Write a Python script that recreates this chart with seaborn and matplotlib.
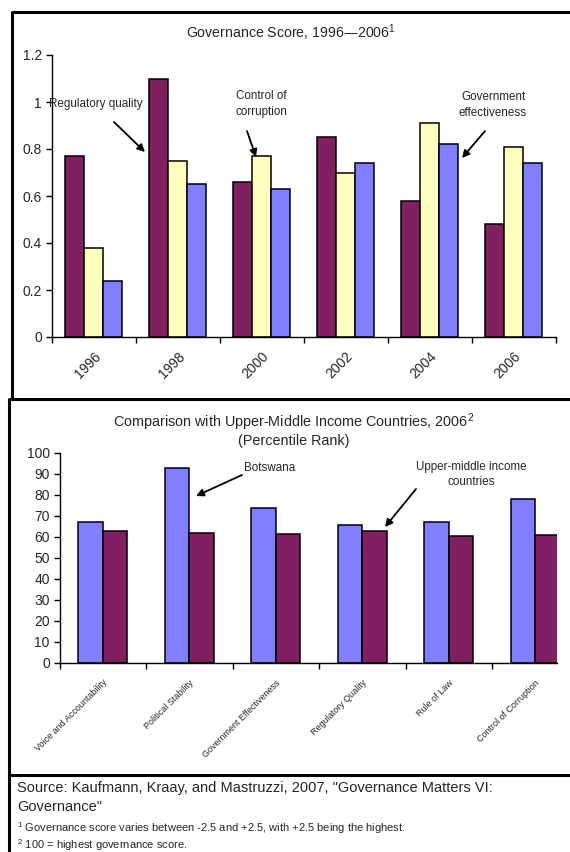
import matplotlib
matplotlib.use("Agg")
import matplotlib.pyplot as plt
from matplotlib.lines import Line2D
import seaborn as sns
import pandas as pd

# ---------------- data ----------------
years = ["1996", "1998", "2000", "2002", "2004", "2006"]
regulatory_quality = [0.77, 1.10, 0.66, 0.85, 0.58, 0.48]
control_of_corruption = [0.38, 0.75, 0.77, 0.70, 0.91, 0.81]
government_effectiveness = [0.24, 0.65, 0.63, 0.74, 0.82, 0.74]
top_series = ["Regulatory quality", "Control of corruption", "Government effectiveness"]
top_yticks = [0, 0.2, 0.4, 0.6, 0.8, 1.0, 1.2]
top_yticklabels = ["0", "0.2", "0.4", "0.6", "0.8", "1", "1.2"]

indicators = ["Voice and Accountability", "Political Stability", "Government Effectiveness",
              "Regulatory Quality", "Rule of Law", "Control of Corruption"]
botswana = [67, 93, 74, 65.5, 67, 78]
upper_middle = [63, 62, 61.5, 63, 60.5, 61]
bottom_series = ["Botswana", "Upper-middle income countries"]
bottom_yticks = [0, 10, 20, 30, 40, 50, 60, 70, 80, 90, 100]

PURPLE = "#802060"
YELLOW = "#FFFFC0"
BLUE = "#8080FF"

# ---------------- setup ----------------
sns.set_theme(style="white")
plt.rcParams["font.family"] = ["Liberation Sans", "DejaVu Sans"]
plt.rcParams["mathtext.default"] = "regular"

W, H = 570, 852
fig = plt.figure(figsize=(W / 100, H / 100), dpi=100)

def fx(x):
    return x / W

def fy(y):
    return 1 - y / H

# ---------------- top chart ----------------
df_top = pd.DataFrame({
    "year": years * 3,
    "value": regulatory_quality + control_of_corruption + government_effectiveness,
    "series": [top_series[0]] * 6 + [top_series[1]] * 6 + [top_series[2]] * 6,
})
ax1 = fig.add_axes([fx(51.6), fy(337), fx(555.6) - fx(51.6), fy(55) - fy(337)])
sns.barplot(data=df_top, x="year", y="value", hue="series", hue_order=top_series,
            palette=[PURPLE, YELLOW, BLUE], width=0.67, edgecolor="black",
            linewidth=1.1, saturation=1, legend=False, ax=ax1)
ax1.set_ylim(0, 1.2)
ax1.set_xlim(-0.5, 5.5)
ax1.set_yticks(top_yticks)
ax1.set_yticklabels(top_yticklabels, fontsize=10)
ax1.set_xticks(range(len(years)))
ax1.set_xticklabels(years, fontsize=10, rotation=45, ha="right", rotation_mode="anchor")
ax1.tick_params(axis="x", which="major", length=0, pad=9)
ax1.set_xticks([i - 0.5 for i in range(len(years) + 1)], minor=True)
ax1.tick_params(axis="x", which="minor", length=4, width=1, color="black", direction="out", bottom=True)
ax1.tick_params(axis="y", length=4, width=1, color="black", direction="out", left=True, pad=3)
ax1.set_xlabel("")
ax1.set_ylabel("")
for s in ["top", "right"]:
    ax1.spines[s].set_visible(False)
for s in ["left", "bottom"]:
    ax1.spines[s].set_color("black")
    ax1.spines[s].set_linewidth(1)

fig.text(fx(291), fy(33), "Governance Score, 1996\u20142006$^{1}$", ha="center", va="center", fontsize=10.2)

arrow = dict(arrowstyle="-|>", color="black", lw=1.3, mutation_scale=11, shrinkA=0, shrinkB=0)
fs_ann = 8.4
fig.text(fx(96), fy(104), "Regulatory quality", ha="center", va="center", fontsize=fs_ann)
ax1.annotate("", xy=(145, H - 152), xytext=(114, H - 122), xycoords="figure pixels",
             textcoords="figure pixels", arrowprops=arrow)
fig.text(fx(261), fy(104), "Control of\ncorruption", ha="center", va="center", fontsize=fs_ann, linespacing=1.4)
ax1.annotate("", xy=(256, H - 157), xytext=(247, H - 131), xycoords="figure pixels",
             textcoords="figure pixels", arrowprops=arrow)
fig.text(fx(493), fy(105), "Government\neffectiveness", ha="center", va="center", fontsize=fs_ann, linespacing=1.4)
ax1.annotate("", xy=(462, H - 158), xytext=(485, H - 131), xycoords="figure pixels",
             textcoords="figure pixels", arrowprops=arrow)

# ---------------- bottom chart ----------------
df_bot = pd.DataFrame({
    "indicator": indicators * 2,
    "value": botswana + upper_middle,
    "series": [bottom_series[0]] * 6 + [bottom_series[1]] * 6,
})
cat_w = 86.5
ax_left, ax_right = 59.5, 557
ax2 = fig.add_axes([fx(ax_left), fy(662.7), fx(ax_right) - fx(ax_left), fy(453) - fy(662.7)])
sns.barplot(data=df_bot, x="indicator", y="value", hue="series", hue_order=bottom_series,
            palette=[BLUE, PURPLE], width=0.565, edgecolor="black",
            linewidth=1.1, saturation=1, legend=False, ax=ax2)
ax2.set_ylim(0, 100)
ax2.set_xlim(-0.5, -0.5 + (ax_right - ax_left) / cat_w)
ax2.set_yticks(bottom_yticks)
ax2.set_yticklabels([str(v) for v in bottom_yticks], fontsize=10)
ax2.set_xticks(range(len(indicators)))
ax2.set_xticklabels(indicators, fontsize=6.5, rotation=45, ha="right", rotation_mode="anchor")
ax2.tick_params(axis="x", which="major", length=0, pad=11)
ax2.set_xticks([i - 0.5 for i in range(len(indicators))], minor=True)
ax2.tick_params(axis="x", which="minor", length=4, width=1, color="black", direction="out", bottom=True)
ax2.tick_params(axis="y", length=4, width=1, color="black", direction="out", left=True, pad=3)
ax2.set_xlabel("")
ax2.set_ylabel("")
for s in ["top", "right"]:
    ax2.spines[s].set_visible(False)
for s in ["left", "bottom"]:
    ax2.spines[s].set_color("black")
    ax2.spines[s].set_linewidth(1)

fig.text(fx(294), fy(422), "Comparison with Upper-Middle Income Countries, 2006$^{2}$",
         ha="center", va="center", fontsize=10.4)
fig.text(fx(294), fy(441), "(Percentile Rank)", ha="center", va="center", fontsize=10.4)

fig.text(fx(270), fy(468), "Botswana", ha="center", va="center", fontsize=fs_ann)
ax2.annotate("", xy=(196, H - 496), xytext=(242, H - 475), xycoords="figure pixels",
             textcoords="figure pixels", arrowprops=arrow)
fig.text(fx(471), fy(474.5), "Upper-middle income\ncountries", ha="center", va="center",
         fontsize=fs_ann, linespacing=1.4)
ax2.annotate("", xy=(385, H - 527), xytext=(416, H - 489), xycoords="figure pixels",
             textcoords="figure pixels", arrowprops=arrow)

# ---------------- source / footnotes ----------------
fig.text(fx(17), fy(788), 'Source: Kaufmann, Kraay, and Mastruzzi, 2007, "Governance Matters VI:',
         ha="left", va="center", fontsize=10.5)
fig.text(fx(17), fy(807), 'Governance"', ha="left", va="center", fontsize=10.5)
fig.text(fx(17), fy(828), "$^{1}$ Governance score varies between -2.5 and +2.5, with +2.5 being the highest.",
         ha="left", va="center", fontsize=8)
fig.text(fx(17), fy(845), "$^{2}$ 100 = highest governance score.", ha="left", va="center", fontsize=8)

# ---------------- boxes ----------------
def line(x0, y0, x1, y1, lw=2.2):
    fig.add_artist(Line2D([fx(x0), fx(x1)], [fy(y0), fy(y1)], color="black", lw=lw,
                          solid_capstyle="butt"))

line(11.5, 12, 570, 12)          # top edge
line(11.5, 11, 11.5, 399)        # left edge top box
line(9, 398.5, 570, 398.5)       # divider 1
line(9, 398, 9, 852)             # left edge lower boxes
line(9, 775, 570, 775)           # divider 2

fig.savefig("out.png", dpi=100)
